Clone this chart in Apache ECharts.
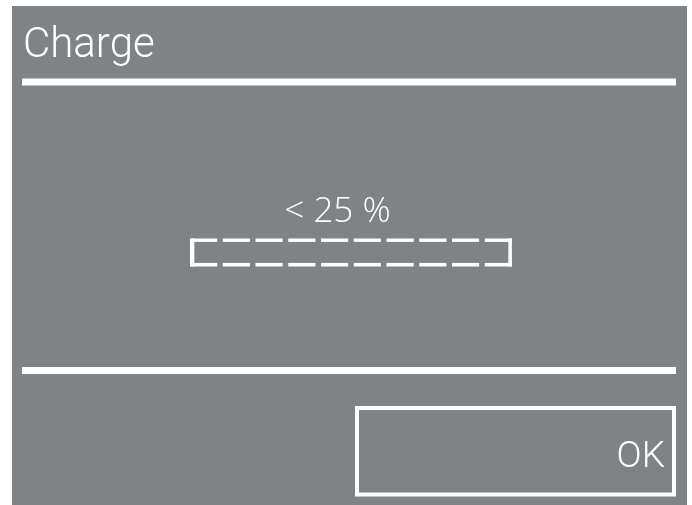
<!DOCTYPE html>
<html>
<head>
<meta charset="utf-8">
<style>
  html, body { margin: 0; padding: 0; background: #ffffff; }
  #chart { width: 692px; height: 505px; }
</style>
<script src="https://cdn.jsdelivr.net/npm/echarts/dist/echarts.min.js"></script>
</head>
<body>
<div id="chart"></div>
<script>
// ---- data ----
const titleText = 'Charge';
const chargeLabel = '< 25 %';
const buttonLabel = 'OK';
const segmentIndex = [0, 1, 2, 3, 4, 5, 6, 7, 8, 9];   // ten dashed cells of the charge bar
const segmentFilled = [0, 0, 0, 0, 0, 0, 0, 0, 0, 0];  // none filled (< 25 %)

const SCREEN = '#808385';
const INK = '#ffffff';
const FONT = 'Roboto, "Liberation Sans", sans-serif';
const FONT2 = '"Open Sans", Roboto, sans-serif';

const chart = echarts.init(document.getElementById('chart'), null, { renderer: 'canvas' });

const lastIdx = segmentIndex.length - 1;

const option = {
  backgroundColor: '#ffffff',
  animation: false,
  grid: { left: 190, top: 238.5, width: 327.5, height: 28 },
  xAxis: { type: 'value', min: 0, max: segmentIndex.length, show: false },
  yAxis: { type: 'value', min: 0, max: 1, show: false },
  graphic: [
    { type: 'rect', z: 0, shape: { x: 12, y: 6, width: 675, height: 499 }, style: { fill: SCREEN } },
    { type: 'text', z: 5, x: 23, y: 46.5, style: { text: titleText, fill: INK, font: '300 42px ' + FONT, textVerticalAlign: 'middle', verticalAlign: 'middle' } },
    { type: 'rect', z: 5, shape: { x: 22, y: 78.5, width: 654, height: 7 }, style: { fill: INK } },
    { type: 'text', z: 5, x: 337.5, y: 212.5, style: { text: chargeLabel, fill: INK, font: '300 35px ' + FONT2, align: 'center', textAlign: 'center', verticalAlign: 'middle', textVerticalAlign: 'middle' } },
    { type: 'rect', z: 5, shape: { x: 22, y: 367, width: 654, height: 7 }, style: { fill: INK } },
    { type: 'rect', z: 5, shape: { x: 357, y: 408, width: 317, height: 86.5 }, style: { fill: 'none', stroke: INK, lineWidth: 4 } },
    { type: 'text', z: 5, x: 665, y: 458, style: { text: buttonLabel, fill: INK, font: '300 37px ' + FONT, align: 'right', textAlign: 'right', verticalAlign: 'middle', textVerticalAlign: 'middle' } }
  ],
  series: [{
    type: 'custom',
    z: 10,
    data: segmentIndex.map((i) => [i, segmentFilled[i]]),
    renderItem: function (params, api) {
      const i = api.value(0);
      const filled = api.value(1);
      const pTop = api.coord([i, 1]);
      const pBot = api.coord([i + 0.83, 0]);
      const x0 = pTop[0], x1 = pBot[0], yT = pTop[1], yB = pBot[1];
      const w = x1 - x0;
      const children = [
        { type: 'rect', shape: { x: x0, y: yT, width: w, height: 3.4 }, style: { fill: INK } },
        { type: 'rect', shape: { x: x0, y: yB - 3.6, width: w, height: 3.6 }, style: { fill: INK } }
      ];
      if (filled) {
        children.push({ type: 'rect', shape: { x: x0, y: yT, width: w, height: yB - yT }, style: { fill: INK } });
      }
      if (i === 0) {
        children.push({ type: 'rect', shape: { x: x0, y: yT, width: 4.3, height: yB - yT }, style: { fill: INK } });
      }
      if (i === lastIdx) {
        children.push({ type: 'rect', shape: { x: x1 - 3.6, y: yT, width: 3.6, height: yB - yT }, style: { fill: INK } });
      }
      return { type: 'group', children: children };
    }
  }]
};

chart.setOption(option);
</script>
</body>
</html>
